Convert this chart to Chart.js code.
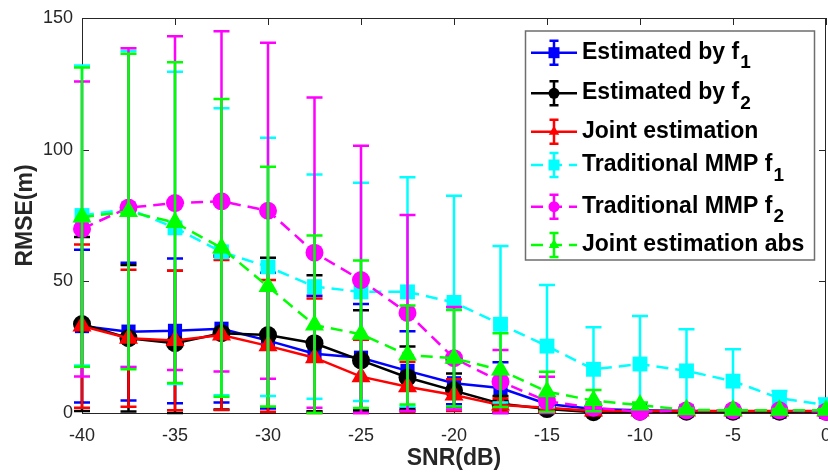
<!DOCTYPE html>
<html>
<head>
<meta charset="utf-8">
<script src="https://cdn.jsdelivr.net/npm/chart.js@4/dist/chart.umd.min.js"></script>
<style>
  body { margin: 0; background: #fff; }
</style>
</head>
<body>
<canvas id="myChart" width="828" height="475"></canvas>
<script>
// SNR points (dB)
var snr = [-40, -37.5, -35, -32.5, -30, -27.5, -25, -22.5, -20, -17.5, -15, -12.5, -10, -7.5, -5, -2.5, 0];
var xTicks = [-40, -35, -30, -25, -20, -15, -10, -5, 0];
var yTicks = [0, 50, 100, 150];

// RMSE means and error half-widths
var f1Vals = [33, 30.9, 31.2, 32, 27.5, 22.5, 21, 16, 11.3, 9.5, 3.4, 1.5, 1, 0.8, 0.6, 0.5, 0.5];
var f1Err  = [29, 26.2, 27.5, 28, 25.8, 22, 20.4, 15, 8, 9.8, 3, 1, 0.5, 0.5, 0.3, 0.3, 0.3];
var f2Vals = [33.8, 28.4, 26.5, 30.3, 29.6, 26.5, 20, 13.5, 8.5, 3.5, 1.5, 0.3, 0.5, 0.5, 0.5, 0.5, 0.5];
var f2Err  = [33, 27.8, 27.5, 29, 29.4, 25.8, 19, 11.8, 6.5, 3, 1.5, 0.3, 0.3, 0.3, 0.3, 0.3, 0.3];
var jointVals = [33, 28.4, 27.5, 29.6, 25.5, 21, 13.8, 10, 6.8, 3, 2, 0.8, 0.8, 0.8, 0.8, 0.8, 0.8];
var jointErr  = [31, 26, 26.5, 28.5, 25, 22.5, 14, 9.5, 6, 2.5, 1.5, 0.5, 0.3, 0.3, 0.3, 0.3, 0.3];
var mmpF1Vals = [75, 77.5, 70.3, 61.2, 55.5, 48, 46, 46, 42, 33.7, 25.4, 16.6, 18.6, 16, 12.1, 5.6, 3];
var mmpF1Err  = [57, 60, 59.3, 54.5, 49, 42.6, 41.4, 43.5, 40.5, 29.7, 23.2, 16, 18.2, 15.8, 12.1, 2.8, 2.5];
var mmpF2Vals = [69.9, 78, 79.7, 80.4, 76.8, 60.9, 50.5, 38, 20.8, 11.9, 4.5, 2, 0.5, 1, 1, 1, 0.5];
var mmpF2Err  = [56, 60.5, 63.4, 64.6, 63.8, 58.9, 51, 37.2, 19.5, 12, 9.3, 2, 0.5, 0.5, 0.5, 0.5, 0.3];
var absVals = [74.4, 76.5, 72.3, 62.7, 48, 33.4, 29.9, 22, 20.8, 16.3, 8.1, 4.7, 3, 1.2, 1, 1, 1];
var absErr  = [56.8, 59.9, 60.9, 56.5, 45.5, 34, 28, 18.8, 18.3, 14, 7.6, 4, 1, 0.5, 0.5, 0.5, 0.5];

var names = ["Estimated by f", "Estimated by f", "Joint estimation", "Traditional MMP f", "Traditional MMP f", "Joint estimation abs"];
var subs = ["1", "2", "", "1", "2", ""];

var FONT = '"Liberation Sans", Arial, sans-serif';
var AX = '#262626';
Chart.defaults.font.family = FONT;

function series(vals) {
    return vals.map(function (v, i) { return {x: snr[i], y: v}; });
}

function makeSet(i, vals, errs, color, style, radius, dashed) {
    return {
        label: names[i] + subs[i],
        data: series(vals),
        errors: errs,
        borderColor: color,
        backgroundColor: color,
        borderWidth: 2.5,
        borderDash: dashed ? [12, 7] : [],
        pointStyle: style,
        pointRadius: radius,
        pointBorderWidth: 0,
        pointBackgroundColor: color,
        tension: 0,
        clip: false,
        order: 5 - i
    };
}

var datasets = [
    makeSet(0, f1Vals, f1Err, '#0000ff', 'rect', 10, false),
    makeSet(1, f2Vals, f2Err, '#000000', 'circle', 9, false),
    makeSet(2, jointVals, jointErr, '#ff0000', 'triangle', 11, false),
    makeSet(3, mmpF1Vals, mmpF1Err, '#00ffff', 'rect', 10.5, true),
    makeSet(4, mmpF2Vals, mmpF2Err, '#ff00ff', 'circle', 9, true),
    makeSet(5, absVals, absErr, '#00ff00', 'triangle', 11, true)
];

// vertical error bars, drawn under each series' line and markers
var errorBars = {
    id: 'errorBars',
    beforeDatasetDraw: function (chart, args) {
        var ds = chart.data.datasets[args.index];
        var ys = chart.scales.y;
        var ctx = chart.ctx;
        ctx.save();
        ctx.strokeStyle = ds.borderColor;
        ctx.lineWidth = 2.5;
        ctx.setLineDash([]);
        args.meta.data.forEach(function (pt, i) {
            var v = ds.data[i].y, e = ds.errors[i];
            var top = ys.getPixelForValue(v + e);
            var bot = ys.getPixelForValue(Math.max(0, v - e));
            ctx.beginPath();
            ctx.moveTo(pt.x, top); ctx.lineTo(pt.x, bot);
            ctx.moveTo(pt.x - 8, top); ctx.lineTo(pt.x + 8, top);
            ctx.moveTo(pt.x - 8, bot); ctx.lineTo(pt.x + 8, bot);
            ctx.stroke();
        });
        ctx.restore();
    }
};

// MATLAB style box with inward ticks
var axesBox = {
    id: 'axesBox',
    beforeDatasetsDraw: function (chart) {
        var a = chart.chartArea, ctx = chart.ctx;
        var xs = chart.scales.x, ys = chart.scales.y;
        ctx.save();
        ctx.strokeStyle = AX;
        ctx.lineWidth = 1;
        ctx.strokeRect(a.left + 0.5, a.top + 0.5, a.right - a.left - 1, a.bottom - a.top);
        ctx.beginPath();
        xTicks.forEach(function (t) {
            var px = Math.round(xs.getPixelForValue(t)) + 0.5;
            ctx.moveTo(px, a.bottom); ctx.lineTo(px, a.bottom - 7);
            ctx.moveTo(px, a.top); ctx.lineTo(px, a.top + 7);
        });
        yTicks.forEach(function (t) {
            var py = Math.round(ys.getPixelForValue(t)) + 0.5;
            ctx.moveTo(a.left, py); ctx.lineTo(a.left + 7, py);
            ctx.moveTo(a.right, py); ctx.lineTo(a.right - 7, py);
        });
        ctx.stroke();
        ctx.restore();
    }
};

function marker(ctx, style, x, y, r) {
    ctx.beginPath();
    if (style === 'rect') {
        ctx.rect(x - r, y - r, 2 * r, 2 * r);
    } else if (style === 'circle') {
        ctx.arc(x, y, r, 0, Math.PI * 2);
    } else {
        ctx.moveTo(x, y - r * 1.1);
        ctx.lineTo(x + r * 0.95, y + r * 0.55);
        ctx.lineTo(x - r * 0.95, y + r * 0.55);
        ctx.closePath();
    }
    ctx.fill();
}

var legendBox = {
    id: 'legendBox',
    afterDraw: function (chart) {
        var ctx = chart.ctx;
        var rowY = [52.7, 93.3, 131.7, 165, 206.7, 245];
        ctx.save();
        ctx.fillStyle = '#fff';
        ctx.fillRect(525.5, 31, 289, 229);
        ctx.strokeStyle = '#6e6e6e';
        ctx.lineWidth = 1.5;
        ctx.strokeRect(525.5, 31, 289, 229);
        chart.data.datasets.forEach(function (ds, i) {
            var y = rowY[i];
            ctx.strokeStyle = ds.borderColor;
            ctx.fillStyle = ds.borderColor;
            ctx.lineWidth = 2.5;
            ctx.setLineDash(ds.borderDash);
            ctx.beginPath();
            ctx.moveTo(531, y); ctx.lineTo(577, y);
            ctx.stroke();
            ctx.setLineDash([]);
            ctx.beginPath();
            ctx.moveTo(554, y - 12); ctx.lineTo(554, y + 12);
            ctx.moveTo(549.5, y - 12); ctx.lineTo(558.5, y - 12);
            ctx.moveTo(549.5, y + 12); ctx.lineTo(558.5, y + 12);
            ctx.stroke();
            marker(ctx, ds.pointStyle, 554, y, 5.5);
            ctx.fillStyle = '#000';
            ctx.textBaseline = 'alphabetic';
            ctx.textAlign = 'left';
            ctx.font = 'bold 23px ' + FONT;
            ctx.fillText(names[i], 582, y + 6);
            if (subs[i]) {
                var w = ctx.measureText(names[i]).width;
                ctx.font = 'bold 19px ' + FONT;
                ctx.fillText(subs[i], 582 + w + 1, y + 15.5);
            }
        });
        ctx.restore();
    }
};

new Chart("myChart", {
    type: "line",
    data: { datasets: datasets },
    plugins: [errorBars, axesBox, legendBox],
    options: {
        responsive: false,
        animation: false,
        layout: { autoPadding: false, padding: { top: 18, right: 2, left: 0, bottom: 0 } },
        plugins: { legend: { display: false }, tooltip: { enabled: false } },
        scales: {
            x: {
                type: 'linear', min: -40, max: 0,
                afterBuildTicks: function (s) { s.ticks = xTicks.map(function (v) { return {value: v}; }); },
                ticks: { color: AX, font: { size: 18 }, padding: 12, maxRotation: 0, autoSkip: false },
                grid: { display: false, drawTicks: false },
                border: { display: false },
                title: { display: true, text: 'SNR(dB)', color: AX, font: { size: 23, weight: 'bold' }, padding: { top: 0, bottom: 3 } },
                afterFit: function (s) { s.height = 62; s.paddingLeft = 0; s.paddingRight = 0; }
            },
            y: {
                min: 0, max: 150,
                afterBuildTicks: function (s) { s.ticks = yTicks.map(function (v) { return {value: v}; }); },
                ticks: { color: AX, font: { size: 18 }, padding: 9 },
                grid: { display: false, drawTicks: false },
                border: { display: false },
                title: { display: true, text: 'RMSE(m)', color: AX, font: { size: 23, weight: 'bold' }, padding: { top: 12, bottom: 0 } },
                afterFit: function (s) { s.width = 82; s.paddingTop = 0; s.paddingBottom = 0; }
            }
        }
    }
});
</script>
</body>
</html>
